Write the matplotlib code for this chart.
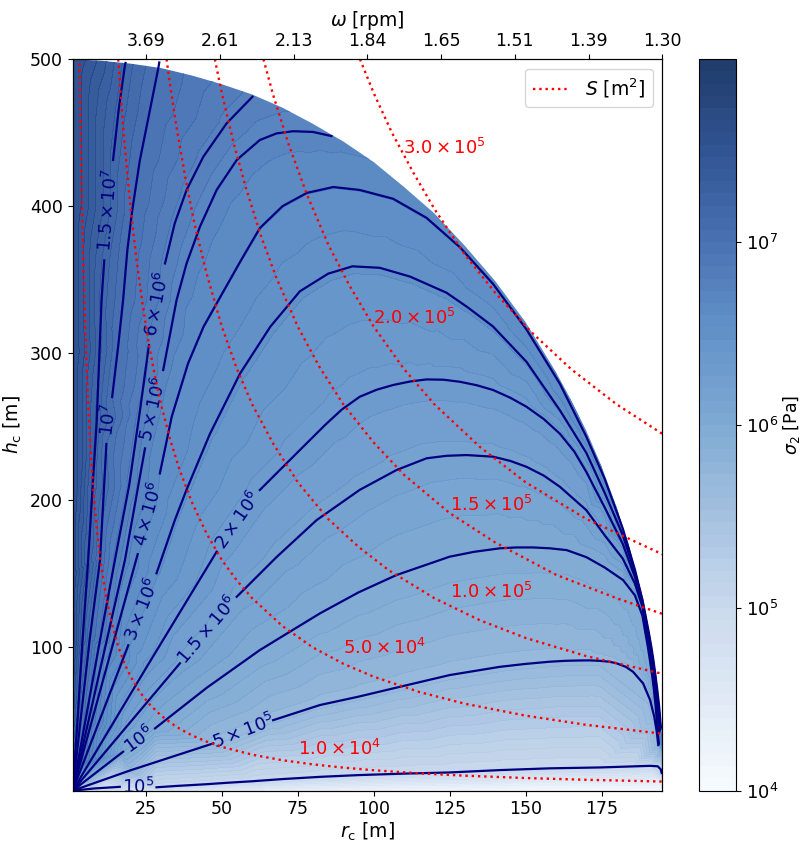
import numpy as np
import matplotlib
matplotlib.use("Agg")
import matplotlib.pyplot as plt
import matplotlib.tri as mtri
from matplotlib.patches import Polygon
from matplotlib.colors import LinearSegmentedColormap

nan = np.nan

# sigma_2 contour lines (r_c, h_c in m); nan = break under the label
sigma_levels = [1e5, 5e5, 1e6, 1.5e6, 2e6, 3e6, 4e6, 5e6, 6e6, 1e7, 1.5e7]

r_1e5 = [0.9, 8.0, 16.4, nan, 28.5, 35.0, 40.0, 45.0, 52.0, 60.0, 70.0, 82.3, 95.0, 110.0, 125.0, 141.5, 158.0, 174.4, 185.0,
         191.0, 193.5, 194.5, 194.8]
h_1e5 = [2.0, 3.5, 4.6, nan, 4.3, 5.2, 5.8, 6.4, 7.4, 8.4, 9.9, 11.4, 12.6, 13.6, 14.4, 16.0, 17.2, 17.8, 18.5,
         18.9, 18.6, 16.5, 14.0]

r_5e5 = [0.9, 20.0, 47.2, nan, 66.9, 82.3, 95.0, 108.6, 125.0, 141.5, 150.0, 158.0, 163.0, 167.0, 171.0, 174.4, 177.5, 180.0,
         183.0, 185.4, 188.7, 191.0, 192.4, 193.2, 193.7]
h_5e5 = [2.0, 15.9, 34.2, nan, 50.0, 60.3, 66.0, 72.7, 80.7, 86.3, 88.3, 89.8, 90.4, 90.6, 90.7, 90.4, 89.8, 88.7,
         86.3, 82.9, 75.0, 63.7, 52.0, 42.0, 33.0]

r_1e6 = [0.9, 17.5, nan, 28.0, 45.0, 62.5, 82.3, 95.0, 107.5, 125.0, 133.0, 141.5, 147.0, 152.5, 158.0, 163.5, 170.0, 176.0,
         182.1, 186.0, 188.5, 189.4, 190.25, 191.0, 191.7, 192.3, 192.8, 193.2, 193.6, 193.9]
h_1e6 = [2.0, 28.5, nan, 44.4, 72.0, 97.7, 122.7, 137.0, 148.8, 161.3, 164.6, 167.0, 167.6, 167.6, 167.0, 165.8, 161.0, 154.0,
         145.4, 135.0, 121.0, 110.0, 100.0, 90.0, 80.0, 70.0, 60.0, 50.0, 40.0, 34.0]

r_1p5e6 = [0.9, 18.6, 36.2, nan, 54.9, 68.0, 81.2, 95.4, 107.5, 117.4, 124.0, 130.6, 139.3, 145.0, 150.3, 156.0, 161.3, 170.0,
           176.0, 182.0, 186.0, 188.5, 189.8, 190.65, 191.4, 192.1, 192.7, 193.2, 193.6, 193.95]
h_1p5e6 = [2.0, 45.5, 88.7, nan, 134.0, 161.0, 186.2, 206.8, 220.3, 228.3, 230.0, 230.5, 229.4, 226.5, 222.5, 216.5, 208.9, 193.0,
           176.0, 160.0, 143.0, 127.0, 110.0, 100.0, 90.0, 80.0, 70.0, 60.0, 50.0, 42.0]

r_2e6 = [0.9, 25.2, 48.3, nan, 62.5, 73.5, 84.0, 89.5, 95.4, 101.0, 106.4, 112.0, 117.4, 123.0, 128.4, 134.0, 139.3, 145.0,
         150.3, 156.0, 161.3, 166.0, 170.0, 176.0, 182.0, 186.0, 188.5, 190.1, 190.95, 191.7, 192.4, 193.0, 193.5, 193.9, 194.2]
h_2e6 = [2.0, 86.0, 164.7, nan, 206.7, 229.4, 251.0, 261.5, 270.2, 275.0, 278.2, 280.6, 282.0, 281.8, 280.4, 278.0, 274.8, 269.5,
         263.4, 255.0, 245.0, 233.0, 219.0, 195.0, 170.0, 147.5, 129.5, 110.0, 100.0, 90.0, 80.0, 70.0, 60.0, 50.0, 43.0]

r_3e6 = [0.9, 19.2, nan, 28.5, 34.5, 38.4, 46.1, 56.0, 66.0, 75.7, 85.0, 93.0, 102.0, 112.0, 124.0, 131.0, 139.3, 150.3, 161.3,
         170.0, 176.0, 182.0, 186.0, 188.5, 190.35, 191.2, 191.95, 192.6, 193.2, 193.75, 194.15, 194.4]
h_3e6 = [2.0, 101.0, nan, 150.0, 186.0, 207.0, 245.0, 286.0, 318.0, 342.0, 354.0, 359.0, 358.0, 352.0, 341.0, 331.0, 318.0, 294.0, 261.0,
         232.0, 205.0, 176.0, 150.5, 131.0, 110.0, 100.0, 90.0, 80.0, 70.0, 60.0, 50.0, 44.0]

r_4e6 = [0.9, 22.3, nan, 29.6, 33.5, 38.9, 44.0, 50.0, 56.0, 62.5, 70.0, 78.0, 86.7, 95.4, 106.4, 117.4, 128.4, 139.3, 150.3,
         161.3, 170.0, 176.0, 182.0, 186.0, 188.5, 190.55, 191.4, 192.15, 192.8, 193.4, 193.95, 194.35, 194.55]
h_4e6 = [2.0, 163.0, nan, 218.0, 256.6, 293.0, 318.0, 340.0, 362.0, 385.0, 400.0, 409.0, 413.0, 411.0, 405.0, 392.0, 372.0, 347.0, 316.0,
         279.0, 243.0, 214.5, 180.5, 152.5, 131.8, 110.0, 100.0, 90.0, 80.0, 70.0, 60.0, 50.0, 45.0]

r_5e6 = [0.9, 18.1, 24.7, nan, 30.7, 35.1, 38.4, 42.8, 48.3, 54.9, 62.5, 68.0, 73.5, 80.0, 86.1]
h_5e6 = [2.0, 159.0, 235.0, nan, 288.4, 336.0, 361.0, 386.0, 411.0, 431.4, 445.0, 449.5, 451.0, 450.5, 447.7]

r_6e6 = [0.9, 9.5, 14.8, 19.5, 23.0, 26.0, nan, 31.3, 34.5, 38.4, 43.9, 51.6, 60.1]
h_6e6 = [2.0, 100.0, 159.0, 210.0, 260.0, 305.4, nan, 361.0, 388.3, 411.0, 433.6, 456.4, 474.5]

r_1e7 = [0.9, 3.5, 6.5, 9.9, 12.0, nan, 13.9, 15.9, 17.5, 18.9, 20.5, 23.0, 26.3, 29.1, 29.4]
h_1e7 = [2.0, 50.0, 105.0, 159.0, 238.0, nan, 270.0, 305.0, 336.0, 370.0, 397.0, 431.0, 465.0, 494.0, 497.8]

r_1p5e7 = [0.9, 2.5, 4.0, 6.0, 7.5, 8.8, 10.4, 11.3, nan, 14.2, 16.0, 18.1, 18.3]
h_1p5e7 = [2.0, 50.0, 100.0, 159.0, 210.0, 253.0, 336.0, 363.0, nan, 431.4, 465.0, 496.0, 497.5]

# S contours [m^2]
S_levels = [1e4, 5e4, 1e5, 1.5e5, 2e5, 3e5]

r_S1e4 = [3.2, 3.6, 4, 4.5, 5, 5.5, 6, 7, 8, 9, 10, 12, 14, 16, 18, 20, 23, 26, 30, 35, 40, 45, 50, 60, 70, 80, 90, 100, 115, 130, 150, 170, 195]
h_S1e4 = [497, 442, 398, 354, 318, 289, 265, 227, 199, 177, 159, 133, 114, 99.5, 88.4, 79.6, 69.2, 61.2, 53.1, 45.5, 39.8, 35.4, 31.8, 26.5, 22.7, 19.9, 17.7, 15.9, 13.8, 12.2, 10.6, 9.4, 8.2]

r_S5e4 = [15.9, 17, 18, 20, 22, 24, 26, 28, 30, 33, 36, 40, 45, 50, 55, 60, 70, 80, 90, 100, 115, 130, 150, 170, 195]
h_S5e4 = [500, 468, 442, 398, 362, 332, 306, 284, 265, 241, 221, 199, 177, 159, 145, 133, 114, 99.5, 88.4, 79.6, 69.2, 61.2, 53.1, 46.8, 40.8]

r_S1e5 = [31.8, 33, 35, 38, 41, 45, 50, 55, 60, 67, 75, 85, 95, 105, 120, 135, 150, 170, 195]
h_S1e5 = [500, 482, 455, 419, 388, 354, 318, 289, 265, 238, 212, 187, 168, 152, 133, 118, 106, 93.6, 81.6]

r_S1p5e5 = [47.7, 50, 54, 58, 63, 68, 75, 82, 90, 100, 110, 125, 140, 160, 180, 195]
h_S1p5e5 = [500, 477, 442, 412, 379, 351, 318, 291, 265, 239, 217, 191, 171, 149, 133, 122.4]

r_S2e5 = [63.7, 67, 72, 78, 85, 92, 100, 110, 120, 135, 150, 170, 195]
h_S2e5 = [500, 475, 442, 408, 374, 346, 318, 289, 265, 236, 212, 187, 163]

r_S3e5 = [95.5, 100, 106, 113, 120, 130, 140, 152, 165, 180, 195]
h_S3e5 = [500, 477, 450, 423, 398, 367, 341, 314, 289, 265, 245]

# edge of the shaded region and sigma_2 estimated along the edges
bnd_r = [0.9, 10, 20, 30, 40, 50, 60, 70, 80, 90, 100, 110, 120, 130, 140, 150, 160, 165, 170, 175, 180, 184, 187, 189, 191, 192.5, 193.5, 194.3, 195.0]
bnd_h = [500, 499, 497, 494, 489, 483, 476, 467, 456, 444, 430, 413, 395, 373, 349, 321, 287, 268, 247, 223, 195, 169, 146, 128, 107, 87, 71, 55, 36]
bnd_sigma = [3.5e7, 2.4e7, 1.4e7, 9.8e6, 8.2e6, 7.0e6, 6.0e6, 5.5e6, 5.15e6, 4.85e6, 4.6e6, 4.35e6, 4.2e6, 4.1e6, 4.08e6,
             4.06e6, 4.05e6, 4.05e6, 4.05e6, 4.05e6, 4.05e6, 4.05e6, 4.05e6, 4.05e6, 4.05e6, 4.05e6, 4.05e6, 4.05e6, 4.0e6]
left_h = [2, 20, 50, 100, 150, 200, 300, 400]
left_sigma = [1e6, 1.2e7, 2.3e7, 3.2e7, 3.5e7, 3.5e7, 3.5e7, 3.5e7]
bottom_r = [5, 10, 20, 35, 50, 75, 100, 150, 195]
bottom_sigma = [7e4, 5e4, 4.3e4, 3.3e4, 2.7e4, 2e4, 1.6e4, 1.2e4, 1.05e4]
right_h = [10, 20, 28]
right_sigma = [5e4, 2e5, 6e5]

# top axis: rotation rate [rpm]
omega_labels = ['3.69', '2.61', '2.13', '1.84', '1.65', '1.51', '1.39', '1.30']

sigma_lines = [(r_1e5, h_1e5), (r_5e5, h_5e5), (r_1e6, h_1e6), (r_1p5e6, h_1p5e6), (r_2e6, h_2e6), (r_3e6, h_3e6),
               (r_4e6, h_4e6), (r_5e6, h_5e6), (r_6e6, h_6e6), (r_1e7, h_1e7), (r_1p5e7, h_1p5e7)]
S_lines = [(r_S1e4, h_S1e4), (r_S5e4, h_S5e4), (r_S1e5, h_S1e5), (r_S1p5e5, h_S1p5e5), (r_S2e5, h_S2e5), (r_S3e5, h_S3e5)]


def sci_label(v, digits=None):
    e = int(np.floor(np.log10(v) + 1e-9))
    m = v / 10 ** e
    if digits is not None:
        return rf'${m:.{digits}f} \times 10^{{{e}}}$'
    if abs(m - 1) < 1e-9:
        return rf'$10^{{{e}}}$'
    return rf'${m:g} \times 10^{{{e}}}$'


# muted blue ramp matching the picture
cmap = LinearSegmentedColormap.from_list('muted_blues', [
    (0.0, '#f7fbff'), (0.25, '#c6d6ec'), (0.5, '#74a3d0'), (0.625, '#5689c4'),
    (0.75, '#3a66ad'), (0.875, '#1f468a'), (1.0, '#0d2a5e')])

plt.rcParams['font.size'] = 12.5
fig = plt.figure(figsize=(8.04, 8.44), dpi=100)
ax = fig.add_axes([0.0904, 0.0632, 0.7333, 0.8666])
cax = fig.add_axes([0.8694, 0.0632, 0.046, 0.8666])
xmin, xmax, ymin, ymax = 0.9, 195.0, 2.0, 500.0
ax.set_xlim(xmin, xmax)
ax.set_ylim(ymin, ymax)

# points for the shaded field
pr, ph, pz = [], [], []
for lev, (r, h) in zip(sigma_levels, sigma_lines):
    for ri, hi in zip(r[1:], h[1:]):
        if not np.isnan(ri):
            pr.append(ri); ph.append(hi); pz.append(np.log10(lev))
for ri, hi, s in zip(bnd_r, bnd_h, bnd_sigma):
    pr.append(ri); ph.append(hi); pz.append(np.log10(s))
for hi, s in zip(left_h, left_sigma):
    pr.append(xmin); ph.append(hi); pz.append(np.log10(s))
for ri, s in zip(bottom_r, bottom_sigma):
    pr.append(ri); ph.append(ymin); pz.append(np.log10(s))
for hi, s in zip(right_h, right_sigma):
    pr.append(xmax); ph.append(hi); pz.append(np.log10(s))
pr, ph, pz = np.array(pr), np.array(ph), np.array(pz)

# triangulate in screen-like proportions, then use data coordinates
tri0 = mtri.Triangulation(pr * 3.04, ph * 1.47)
tri = mtri.Triangulation(pr, ph, tri0.triangles)
cs = ax.tricontourf(tri, pz, levels=np.linspace(4, 8, 61), cmap=cmap, alpha=0.92, zorder=1)
domain = Polygon([(xmin, ymin)] + list(zip(bnd_r, bnd_h)) + [(xmax, ymin)], closed=True,
                 transform=ax.transData, facecolor='none', edgecolor='none')
ax.add_patch(domain)
cs.set_clip_path(domain)

# sigma_2 lines and their labels
for lev, (r, h) in zip(sigma_levels, sigma_lines):
    ax.plot(r, h, color='navy', lw=1.6, zorder=3)
    i = int(np.where(np.isnan(r))[0][0])
    p1 = ax.transData.transform((r[i - 1], h[i - 1]))
    p2 = ax.transData.transform((r[i + 1], h[i + 1]))
    ang = np.degrees(np.arctan2(p2[1] - p1[1], p2[0] - p1[0]))
    if ang > 90:
        ang -= 180
    xc, yc = ax.transData.inverted().transform((p1 + p2) / 2)
    ax.text(xc, yc, sci_label(lev), color='navy', fontsize=13, rotation=ang,
            rotation_mode='anchor', ha='center', va='center', zorder=4, clip_on=True)

# S lines
for k, (r, h) in enumerate(S_lines):
    ax.plot(r, h, ':', color='red', lw=1.7, zorder=5,
            label='$S$ [m$^2$]' if k == 0 else None)
S_text_pos = [(75.1, 30.3), (90.0, 98.9), (125.1, 137.4), (125.1, 196.4), (99.8, 323.8), (109.6, 439.6)]
for lev, (x, y) in zip(S_levels, S_text_pos):
    ax.text(x, y, sci_label(lev, 1), color='red', fontsize=13, ha='left', va='center', zorder=6)

ax.set_xticks([25, 50, 75, 100, 125, 150, 175])
ax.set_yticks([100, 200, 300, 400, 500])
ax.set_xlabel(r'$r_{\rm c}$ [m]', fontsize=13.5, labelpad=2)
ax.set_ylabel(r'$h_{\rm c}$ [m]', fontsize=13.5)
ax.legend(loc='upper right', fontsize=13.5)

ax2 = ax.twiny()
ax2.set_xlim(xmin, xmax)
ax2.set_xticks(np.linspace(xmin, xmax, 9)[1:])
ax2.set_xticklabels(omega_labels)
ax2.set_xlabel(r'$\omega$ [rpm]', fontsize=13.5)

cb = fig.colorbar(cs, cax=cax, ticks=[4, 5, 6, 7])
cb.set_ticklabels([sci_label(v) for v in [1e4, 1e5, 1e6, 1e7]])
cb.ax.tick_params(labelsize=13)
cb.set_label(r'$\sigma_2$ [Pa]', fontsize=12.5, labelpad=2)

fig.savefig('out.png', dpi=100)
